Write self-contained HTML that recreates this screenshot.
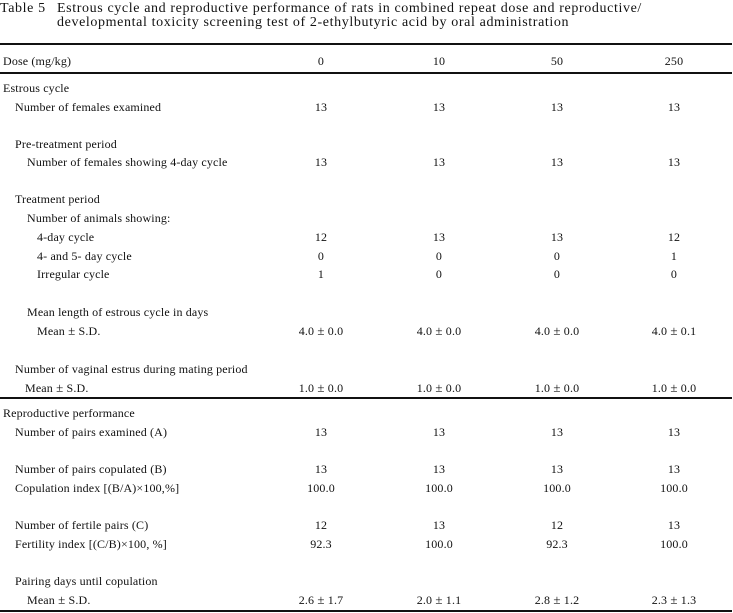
<!DOCTYPE html>
<html>
<head>
<meta charset="utf-8">
<style>
html,body{margin:0;padding:0;background:#fff;}
#c{position:relative;width:733px;height:613px;overflow:hidden;background:#fff;color:#111;font-family:"Liberation Serif","Noto Serif CJK SC",serif;}
.t{position:absolute;font-size:14px;line-height:14px;letter-spacing:0.62px;white-space:nowrap;}
.l{position:absolute;font-size:12px;line-height:18px;letter-spacing:0.15px;white-space:nowrap;}
.v{position:absolute;font-size:12px;line-height:18px;letter-spacing:0.15px;white-space:nowrap;width:100px;text-align:center;}
.pm{font-size:13px;}
.r{position:absolute;left:0;width:732px;background:#111;}
</style>
</head>
<body>
<div id="c">
<div class="t" style="left:0;top:2px;">Table 5</div>
<div class="t" style="left:57px;top:2px;">Estrous cycle and reproductive performance of rats in combined repeat dose and reproductive/</div>
<div class="t" style="left:57px;top:16px;">developmental toxicity screening test of 2-ethylbutyric acid by oral administration</div>

<div class="r" style="top:43px;height:2px;"></div>
<div class="r" style="top:72px;height:1.5px;"></div>
<div class="r" style="top:397px;height:1.5px;"></div>
<div class="r" style="top:610px;height:2px;"></div>

<!-- header -->
<div class="l" style="left:3px;top:51.6px;">Dose (mg/kg)</div>
<div class="v" style="left:271px;top:51.6px;">0</div>
<div class="v" style="left:389px;top:51.6px;">10</div>
<div class="v" style="left:507px;top:51.6px;">50</div>
<div class="v" style="left:624px;top:51.6px;">250</div>

<!-- Estrous cycle -->
<div class="l" style="left:3px;top:78.6px;">Estrous cycle</div>

<div class="l" style="left:15px;top:97.6px;">Number of females examined</div>
<div class="v" style="left:271px;top:97.6px;">13</div>
<div class="v" style="left:389px;top:97.6px;">13</div>
<div class="v" style="left:507px;top:97.6px;">13</div>
<div class="v" style="left:624px;top:97.6px;">13</div>

<div class="l" style="left:15px;top:134.6px;">Pre-treatment period</div>
<div class="l" style="left:27px;top:153.1px;">Number of females showing 4-day cycle</div>
<div class="v" style="left:271px;top:153.1px;">13</div>
<div class="v" style="left:389px;top:153.1px;">13</div>
<div class="v" style="left:507px;top:153.1px;">13</div>
<div class="v" style="left:624px;top:153.1px;">13</div>

<div class="l" style="left:15px;top:190.1px;">Treatment period</div>
<div class="l" style="left:27px;top:208.6px;">Number of animals showing:</div>

<div class="l" style="left:37px;top:227.6px;">4-day cycle</div>
<div class="v" style="left:271px;top:227.6px;">12</div>
<div class="v" style="left:389px;top:227.6px;">13</div>
<div class="v" style="left:507px;top:227.6px;">13</div>
<div class="v" style="left:624px;top:227.6px;">12</div>

<div class="l" style="left:37px;top:246.6px;">4- and 5- day cycle</div>
<div class="v" style="left:271px;top:246.6px;">0</div>
<div class="v" style="left:389px;top:246.6px;">0</div>
<div class="v" style="left:507px;top:246.6px;">0</div>
<div class="v" style="left:624px;top:246.6px;">1</div>

<div class="l" style="left:37px;top:264.6px;">Irregular cycle</div>
<div class="v" style="left:271px;top:264.6px;">1</div>
<div class="v" style="left:389px;top:264.6px;">0</div>
<div class="v" style="left:507px;top:264.6px;">0</div>
<div class="v" style="left:624px;top:264.6px;">0</div>

<div class="l" style="left:27px;top:303.1px;">Mean length of estrous cycle in days</div>
<div class="l" style="left:37px;top:322.1px;">Mean <span class="pm">±</span> S.D.</div>
<div class="v" style="left:271px;top:322.1px;">4.0 <span class="pm">±</span> 0.0</div>
<div class="v" style="left:389px;top:322.1px;">4.0 <span class="pm">±</span> 0.0</div>
<div class="v" style="left:507px;top:322.1px;">4.0 <span class="pm">±</span> 0.0</div>
<div class="v" style="left:624px;top:322.1px;">4.0 <span class="pm">±</span> 0.1</div>

<div class="l" style="left:15px;top:359.6px;">Number of vaginal estrus during mating period</div>
<div class="l" style="left:25px;top:378.6px;">Mean <span class="pm">±</span> S.D.</div>
<div class="v" style="left:271px;top:378.6px;">1.0 <span class="pm">±</span> 0.0</div>
<div class="v" style="left:389px;top:378.6px;">1.0 <span class="pm">±</span> 0.0</div>
<div class="v" style="left:507px;top:378.6px;">1.0 <span class="pm">±</span> 0.0</div>
<div class="v" style="left:624px;top:378.6px;">1.0 <span class="pm">±</span> 0.0</div>

<!-- Reproductive performance -->
<div class="l" style="left:3px;top:403.6px;">Reproductive performance</div>

<div class="l" style="left:15px;top:422.6px;">Number of pairs examined (A)</div>
<div class="v" style="left:271px;top:422.6px;">13</div>
<div class="v" style="left:389px;top:422.6px;">13</div>
<div class="v" style="left:507px;top:422.6px;">13</div>
<div class="v" style="left:624px;top:422.6px;">13</div>

<div class="l" style="left:15px;top:459.6px;">Number of pairs copulated (B)</div>
<div class="v" style="left:271px;top:459.6px;">13</div>
<div class="v" style="left:389px;top:459.6px;">13</div>
<div class="v" style="left:507px;top:459.6px;">13</div>
<div class="v" style="left:624px;top:459.6px;">13</div>

<div class="l" style="left:15px;top:478.6px;">Copulation index [(B/A)×100,%]</div>
<div class="v" style="left:271px;top:478.6px;">100.0</div>
<div class="v" style="left:389px;top:478.6px;">100.0</div>
<div class="v" style="left:507px;top:478.6px;">100.0</div>
<div class="v" style="left:624px;top:478.6px;">100.0</div>

<div class="l" style="left:15px;top:515.6px;">Number of fertile pairs (C)</div>
<div class="v" style="left:271px;top:515.6px;">12</div>
<div class="v" style="left:389px;top:515.6px;">13</div>
<div class="v" style="left:507px;top:515.6px;">12</div>
<div class="v" style="left:624px;top:515.6px;">13</div>

<div class="l" style="left:15px;top:534.6px;">Fertility index [(C/B)×100, %]</div>
<div class="v" style="left:271px;top:534.6px;">92.3</div>
<div class="v" style="left:389px;top:534.6px;">100.0</div>
<div class="v" style="left:507px;top:534.6px;">92.3</div>
<div class="v" style="left:624px;top:534.6px;">100.0</div>

<div class="l" style="left:15px;top:571.6px;">Pairing days until copulation</div>
<div class="l" style="left:27px;top:590.6px;">Mean <span class="pm">±</span> S.D.</div>
<div class="v" style="left:271px;top:590.6px;">2.6 <span class="pm">±</span> 1.7</div>
<div class="v" style="left:389px;top:590.6px;">2.0 <span class="pm">±</span> 1.1</div>
<div class="v" style="left:507px;top:590.6px;">2.8 <span class="pm">±</span> 1.2</div>
<div class="v" style="left:624px;top:590.6px;">2.3 <span class="pm">±</span> 1.3</div>
</div>
</body>
</html>
